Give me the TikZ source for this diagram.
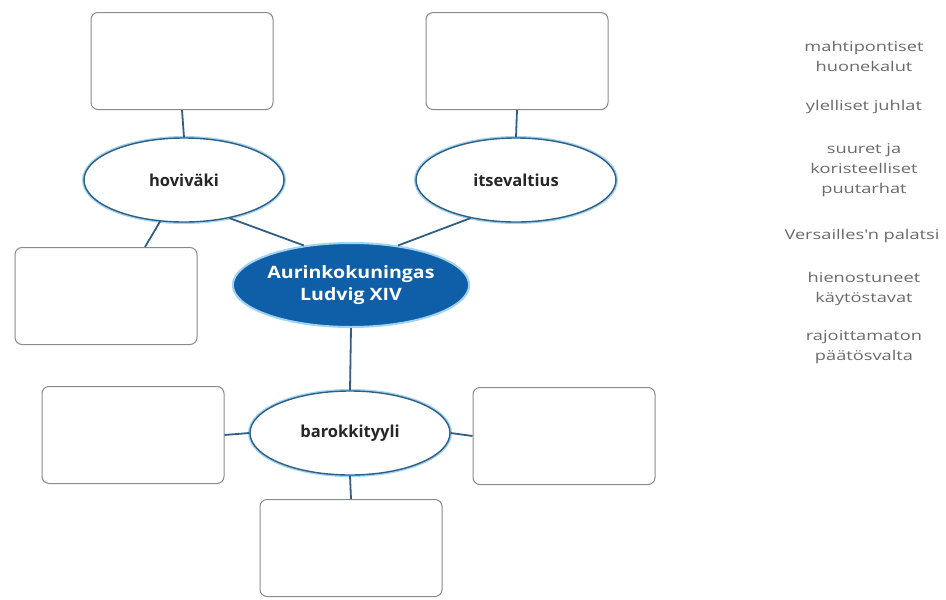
\documentclass[tikz,border=0pt]{standalone}
\usepackage{fontspec}
\setmainfont{Open Sans}
\newfontfamily\wordfont[FakeStretch=1.35]{Open Sans}
\newfontfamily\hubfont[FakeStretch=1.15]{Open Sans}
\usetikzlibrary{shapes.geometric}
\definecolor{edgeblue}{HTML}{2F5F86}
\definecolor{fillblue}{HTML}{0F5FA8}
\definecolor{glow}{HTML}{9FD3EE}
\definecolor{boxgray}{HTML}{8A8A8A}
\definecolor{txtgray}{HTML}{6A6A6A}
\tikzset{
  answerbox/.style={draw=boxgray, line width=1pt, rounded corners=7pt, minimum width=182pt, minimum height=97pt, inner sep=0pt},
  topic/.style={ellipse, draw=edgeblue, line width=1.4pt, fill=white, minimum width=200pt, minimum height=84pt, inner sep=0pt, font=\bfseries\fontsize{16.5}{18}\selectfont, text=black!85,
     preaction={draw=glow, line width=4pt}},
  hub/.style={ellipse, fill=fillblue, draw=glow, line width=2pt, minimum width=236pt, minimum height=84pt, inner sep=0pt, align=center, font=\hubfont\bfseries\fontsize{17}{22}\selectfont, text=white},
  link/.style={draw=edgeblue, line width=1.8pt},
  word/.style={align=center, font=\wordfont\fontsize{13.5}{20}\selectfont, text=txtgray}
}
\begin{document}
\begin{tikzpicture}[x=1pt,y=-1pt]
\useasboundingbox (0,0) rectangle (946,600);
% boxes
\node[answerbox] (b1) at (182,61) {};
\node[answerbox] (b2) at (517,61) {};
\node[answerbox] (b3) at (106,296) {};
\node[answerbox] (b4) at (133,435) {};
\node[answerbox] (b5) at (564,436) {};
\node[answerbox] (b6) at (351,548) {};
% ellipses
\node[topic] (hov) at (184,180) {hoviväki};
\node[topic] (its) at (516,180) {itsevaltius};
\node[hub] (hub) at (351,285) {Aurinkokuningas\\Ludvig XIV};
\node[topic] (bar) at (350,433) {barokkityyli};
% links
\draw[link] (b1.south) -- (hov.north);
\draw[link] (b2.south) -- (its.north);
\draw[link] (hov.-120) -- (b3.north -| 145,0);
\draw[link] (hov.-40) -- (hub.140);
\draw[link] (its.-140) -- (hub.40);
\draw[link] (hub.south) -- (bar.north);
\draw[link] (bar.west) -- (b4.east);
\draw[link] (bar.east) -- (b5.west);
\draw[link] (bar.south) -- (b6.north);
% word list
\node[word] (w1) at (864,56) {mahtipontiset\\huonekalut};
\node[word] (w2) at (864,107) {ylelliset juhlat};
\node[word] (w3) at (864,170) {suuret ja\\koristeelliset\\puutarhat};
\node[word] (w4) at (862,236) {Versailles'n palatsi};
\node[word] (w5) at (864,289) {hienostuneet\\käytöstavat};
\node[word] (w6) at (864,347) {rajoittamaton\\päätösvalta};
\end{tikzpicture}
\end{document}
